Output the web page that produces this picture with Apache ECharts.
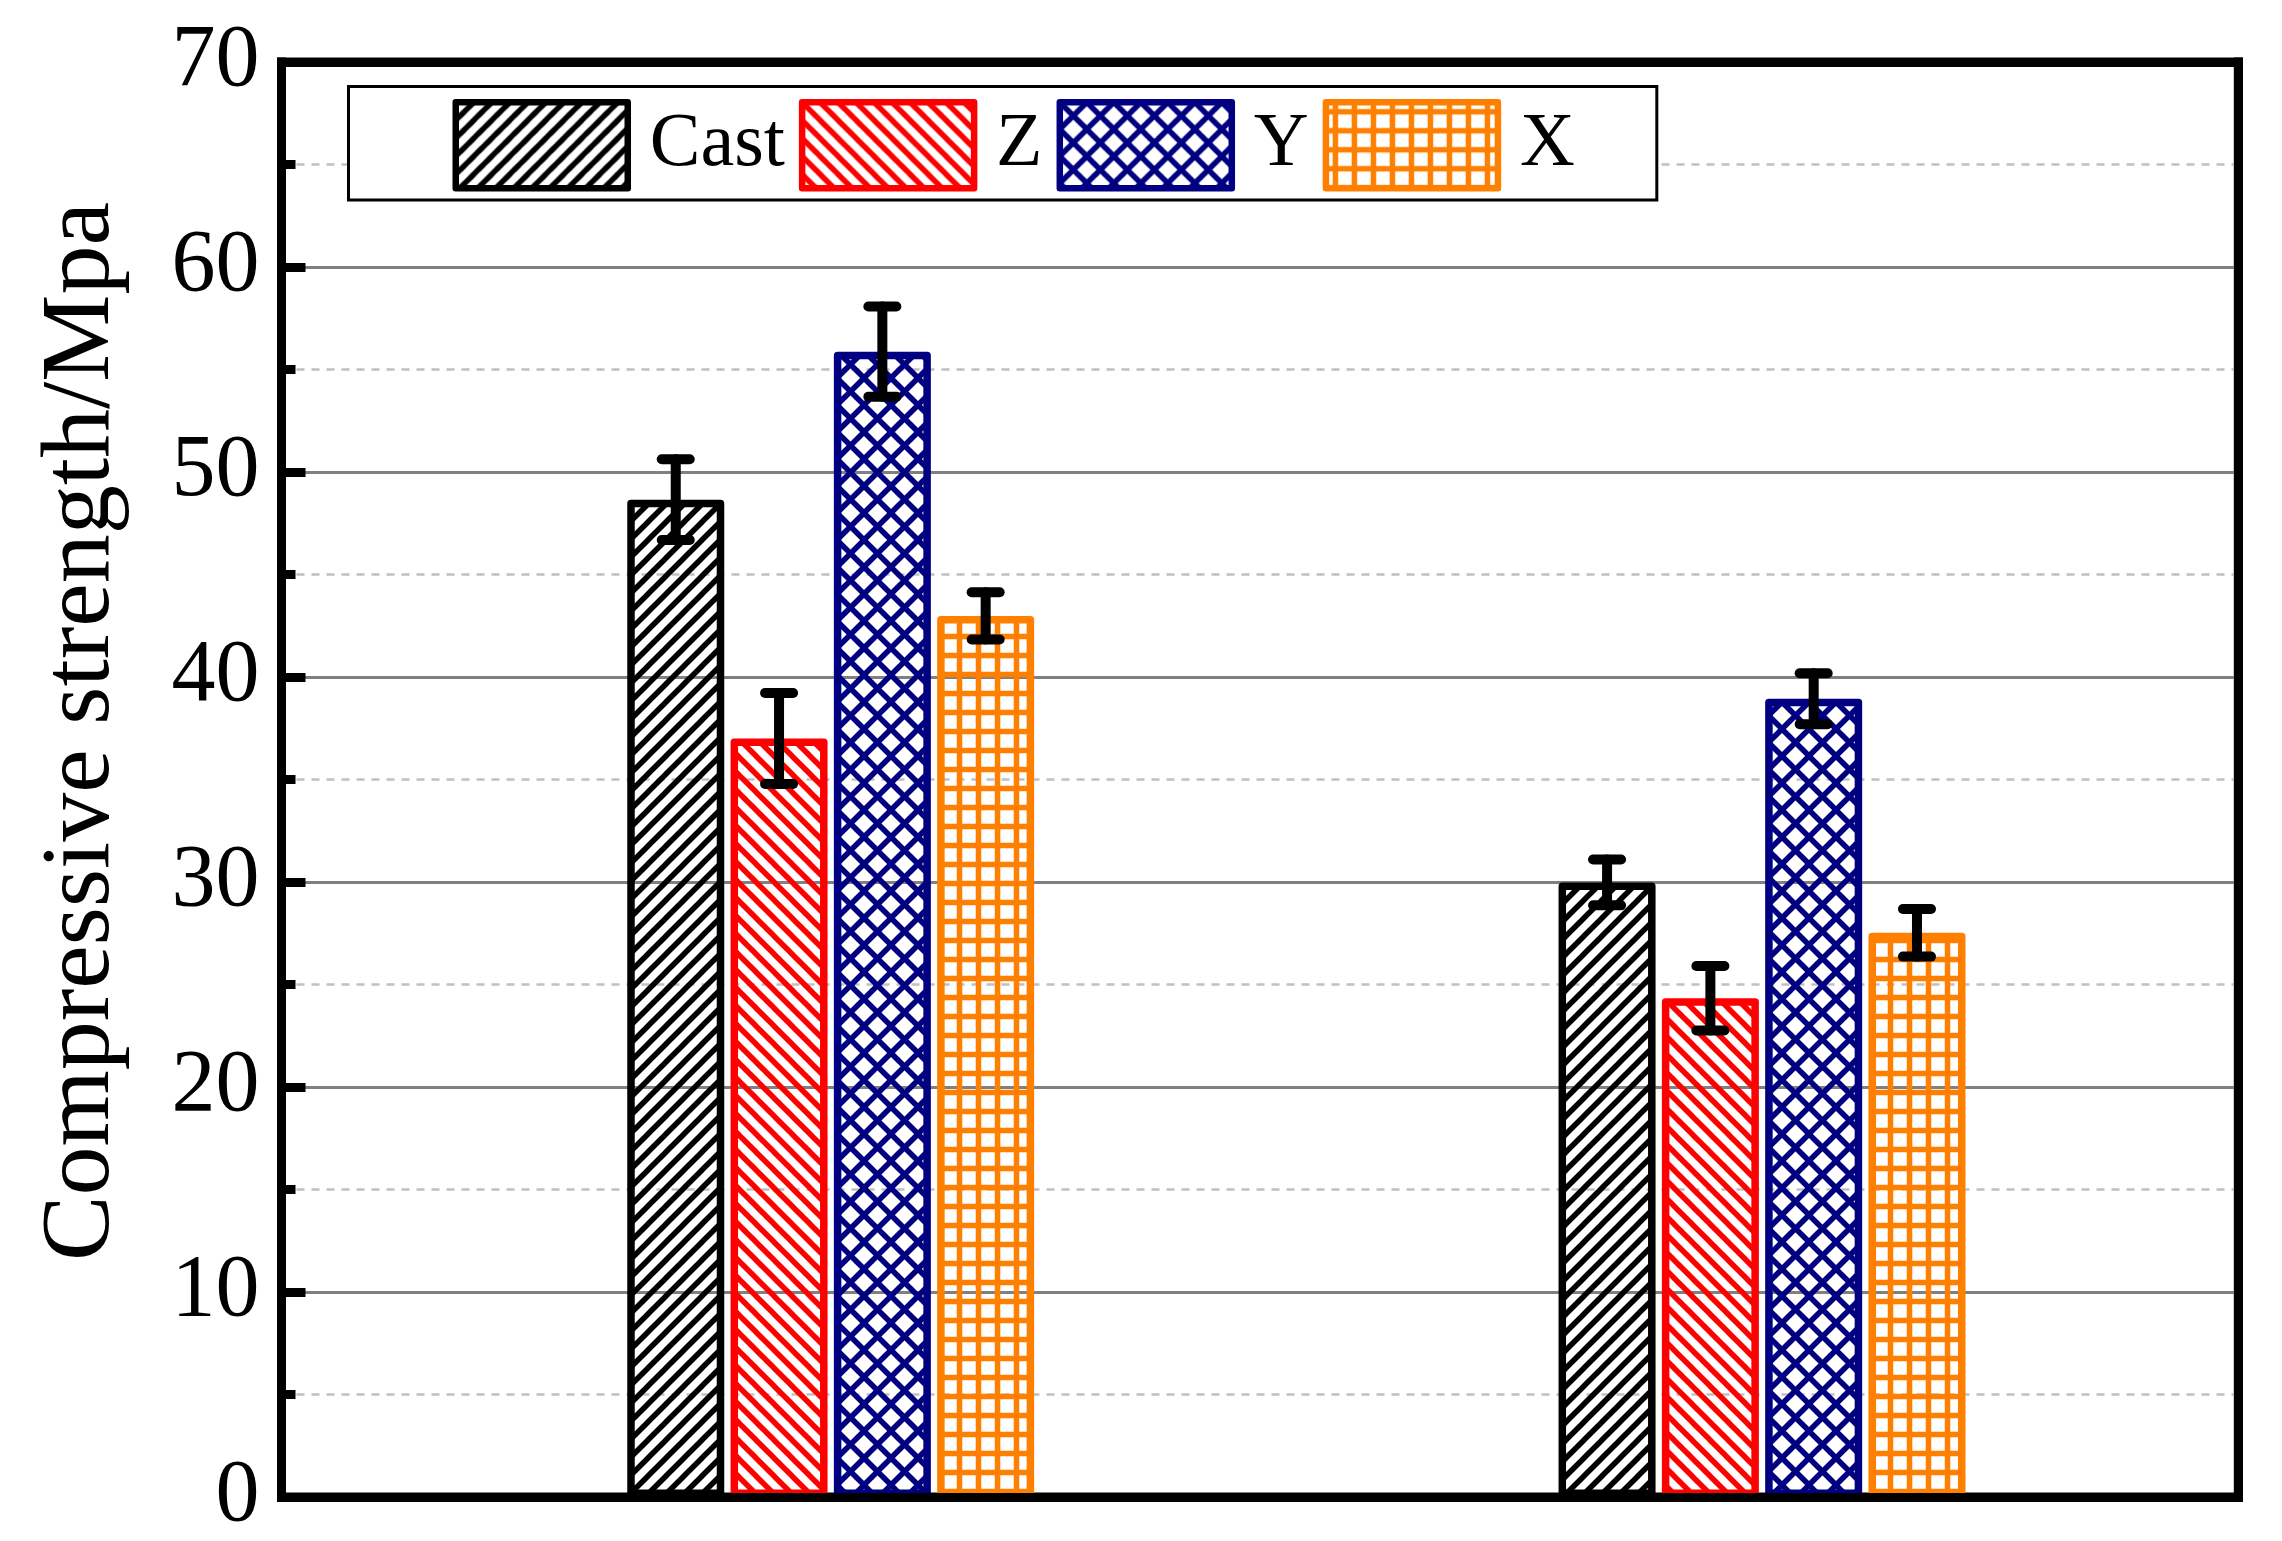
<!DOCTYPE html>
<html>
<head>
<meta charset="utf-8">
<script src="https://cdn.jsdelivr.net/npm/echarts@6/dist/echarts.min.js"></script>
<style>
  html, body { margin: 0; padding: 0; background: #fff; }
  #chart { width: 2282px; height: 1541px; }
</style>
</head>
<body>
<div id="chart"></div>
<script>
// group positions on the (hidden) x axis, one per specimen group
const groups = [1, 2];
const seriesNames = ['Cast', 'Z', 'Y', 'X'];

// compressive strength (MPa) and error (+/-) per group
const castMean = [48.65, 29.98];
const castErr = [1.97, 1.12];
const zMean = [37.0, 24.33];
const zErr = [2.22, 1.57];
const yMean = [55.87, 38.94];
const yErr = [2.2, 1.24];
const xMean = [42.98, 27.52];
const xErr = [1.15, 1.16];

const FONT = "'Liberation Serif', 'Times New Roman', serif";
const BAR_W = 97;
const BAR_GAP = 0.065;

// canvas hatch tiles (lines run past the tile edges so the tiles join without seams)
function makePattern(color, kind) {
  const P = kind === 'cross' ? 27 : kind === 'grid' ? 19 : 18;
  const c = document.createElement('canvas');
  c.width = P;
  c.height = P;
  const ctx = c.getContext('2d');
  ctx.strokeStyle = color;
  ctx.fillStyle = color;
  ctx.lineWidth = 5.5;
  const offs = [-P, 0, P, 2 * P];
  if (kind === 'fwd' || kind === 'cross') {
    for (const s of offs) {
      ctx.beginPath();
      ctx.moveTo(s + P, -P);
      ctx.lineTo(s - 2 * P, 2 * P);
      ctx.stroke();
    }
  }
  if (kind === 'back' || kind === 'cross') {
    for (const s of offs) {
      ctx.beginPath();
      ctx.moveTo(s - P, -P);
      ctx.lineTo(s + 2 * P, 2 * P);
      ctx.stroke();
    }
  }
  if (kind === 'grid') {
    const w = 5.5;
    ctx.fillRect(P / 2 - w / 2, 0, w, P);
    ctx.fillRect(0, P / 2 - w / 2, P, w);
  }
  return { image: c, repeat: 'repeat' };
}

const styles = [
  { color: '#000000', kind: 'fwd' },
  { color: '#ff0000', kind: 'back' },
  { color: '#000080', kind: 'cross' },
  { color: '#ff8000', kind: 'grid' }
];

const means = [castMean, zMean, yMean, xMean];
const errs = [castErr, zErr, yErr, xErr];

const barSeries = seriesNames.map((name, k) => ({
  name: name,
  type: 'bar',
  xAxisIndex: 0,
  yAxisIndex: 0,
  barWidth: BAR_W,
  barGap: (BAR_GAP * 100) + '%',
  z: 2,
  data: groups.map((g, i) => [g, means[k][i]]),
  itemStyle: {
    color: makePattern(styles[k].color, styles[k].kind),
    borderColor: styles[k].color,
    borderWidth: 7.5,
    borderJoin: 'round'
  },
  emphasis: { disabled: true }
}));

const errData = [];
seriesNames.forEach((name, k) => {
  groups.forEach((g, i) => {
    errData.push([g, means[k][i] - errs[k][i], means[k][i] + errs[k][i], k]);
  });
});

const errSeries = {
  type: 'custom',
  name: 'err',
  xAxisIndex: 0,
  yAxisIndex: 0,
  z: 5,
  silent: true,
  encode: { x: 0, y: [1, 2] },
  data: errData,
  renderItem: function (params, api) {
    const x = api.value(0);
    const k = api.value(3);
    const off = (k - (seriesNames.length - 1) / 2) * BAR_W * (1 + BAR_GAP);
    const top = api.coord([x, api.value(2)]);
    const bot = api.coord([x, api.value(1)]);
    const cx = top[0] + off;
    const hw = 14;
    const st = { stroke: '#000', lineWidth: 10, lineCap: 'round' };
    return {
      type: 'group',
      children: [
        { type: 'line', shape: { x1: cx, y1: top[1], x2: cx, y2: bot[1] }, style: st },
        { type: 'line', shape: { x1: cx - hw, y1: top[1], x2: cx + hw, y2: top[1] }, style: st },
        { type: 'line', shape: { x1: cx - hw, y1: bot[1], x2: cx + hw, y2: bot[1] }, style: st }
      ]
    };
  }
};

function frameLine() {
  return { show: true, onZero: false, lineStyle: { color: '#000', width: 9, cap: 'square' } };
}

const chart = echarts.init(document.getElementById('chart'), null, { renderer: 'canvas' });
chart.setOption({
  backgroundColor: '#ffffff',
  animation: false,
  textStyle: { fontFamily: FONT },
  grid: {
    left: 281.5, right: 2282 - 2238.3, top: 62, bottom: 1541 - 1508.5,
    show: true, borderColor: '#000', borderWidth: 9, backgroundColor: 'transparent'
  },
  legend: {
    data: seriesNames,
    left: 348.5,
    top: 86.5,
    orient: 'horizontal',
    itemWidth: 172,
    itemHeight: 86,
    itemGap: 14,
    padding: [12.5, 82, 8.5, 104],
    borderColor: '#000',
    borderWidth: 3,
    borderRadius: 0,
    backgroundColor: '#fff',
    icon: 'rect',
    selectedMode: false,
    itemStyle: { borderWidth: 6.5 },
    textStyle: { fontFamily: FONT, fontSize: 76, color: '#000', padding: [0, 0, 0, 17] }
  },
  xAxis: [
    {
      type: 'value',
      position: 'bottom',
      min: 0.4103,
      max: 2.5114,
      z: 10,
      axisLine: frameLine(),
      axisTick: { show: false },
      axisLabel: { show: false },
      splitLine: { show: false }
    },
    {
      type: 'value',
      position: 'top',
      min: 0.4103,
      max: 2.5114,
      z: 10,
      axisLine: frameLine(),
      axisTick: { show: false },
      axisLabel: { show: false },
      splitLine: { show: false }
    }
  ],
  yAxis: [
    {
      type: 'value',
      position: 'left',
      min: 0,
      max: 70,
      interval: 10,
      z: 0,
      name: 'Compressive strength/Mpa',
      nameLocation: 'middle',
      nameGap: 150,
      nameRotate: 90,
      nameTextStyle: { fontFamily: FONT, fontSize: 98, color: '#000', padding: [0, 0, 0, 96] },
      axisLine: frameLine(),
      axisTick: { show: true, inside: true, length: 24, lineStyle: { color: '#000', width: 9 } },
      minorTick: { show: true, splitNumber: 2, length: 14, lineStyle: { color: '#000', width: 9 } },
      axisLabel: { fontFamily: FONT, fontSize: 88, color: '#000', margin: 22 },
      splitLine: { show: true, lineStyle: { color: '#808080', width: 3 } },
      minorSplitLine: { show: true, lineStyle: { color: '#c0c0c0', width: 2.5, type: [8, 7] } }
    },
    {
      type: 'value',
      position: 'right',
      min: 0,
      max: 70,
      interval: 10,
      z: 10,
      axisLine: frameLine(),
      axisTick: { show: false },
      axisLabel: { show: false },
      splitLine: { show: false }
    }
  ],
  series: barSeries.concat([errSeries])
});
</script>
</body>
</html>
